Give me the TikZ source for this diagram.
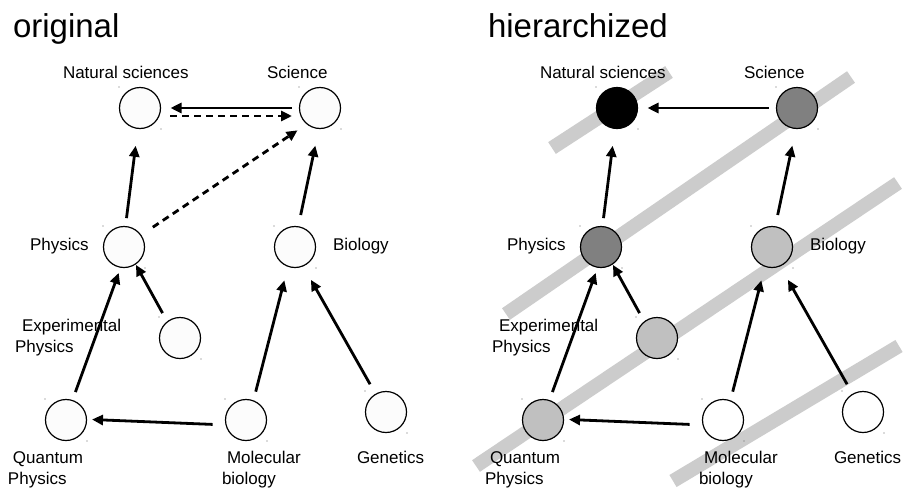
\documentclass[tikz,border=0pt]{standalone}
\usepackage{fontspec}
\setmainfont{Liberation Sans}
\usetikzlibrary{arrows.meta,calc}
\definecolor{bandgray}{HTML}{CCCCCC}
\definecolor{midgray}{HTML}{808080}
\definecolor{ltgray}{HTML}{C0C0C0}
\definecolor{offwhite}{HTML}{FCFCFC}
\definecolor{dotc}{HTML}{666666}
\begin{document}
\begin{tikzpicture}[x=1pt,y=-1pt,
  nd/.style={circle,draw=black,line width=1.2pt,minimum size=41pt,inner sep=0pt,outer sep=0pt,fill=#1},
  nd/.default=offwhite,
  lbl/.style={font=\fontsize{17}{21}\selectfont,inner sep=0pt,outer sep=0pt,anchor=base west,align=left},
  ttl/.style={font=\fontsize{33}{38}\selectfont,inner sep=0pt,outer sep=0pt,anchor=base west},
  arr/.style={line width=2.8pt,-{Triangle[length=11pt,width=10pt]}},
  dsh/.style={arr,dash pattern=on 7pt off 5pt},
  band/.style={line width=14pt,draw=bandgray},
]
\fill[white] (0,0) rectangle (904,490);
\useasboundingbox (0,0) rectangle (904,490);

% titles
\node[ttl] (t1) at (13,37) {original};
\node[ttl] (t2) at (488,37) {hierarchized};

% bands (right panel)
\draw[band] (552,148) -- (669,72);
\draw[band] (506,314) -- (851,77);
\draw[band] (476,466) -- (898,183);
\draw[band] (673,481) -- (899,346);

% left panel nodes
\node[nd] (lns) at (140,108) {};
\node[nd] (lsci) at (320,108) {};
\node[nd] (lphys) at (124,247) {};
\node[nd] (lbio) at (295,247) {};
\node[nd] (lep) at (180,338) {};
\node[nd] (lqp) at (66,420) {};
\node[nd] (lmb) at (246,420) {};
\node[nd] (lgen) at (386,412) {};

% right panel nodes
\node[nd=black] (rns) at (617,108) {};
\node[nd=midgray] (rsci) at (797,108) {};
\node[nd=midgray] (rphys) at (601,247) {};
\node[nd=ltgray] (rbio) at (772,247) {};
\node[nd=ltgray] (rep) at (657,338) {};
\node[nd=ltgray] (rqp) at (543,420) {};
\node[nd=white] (rmb) at (723,420) {};
\node[nd=white] (rgen) at (863,412) {};

% corner dots
\foreach \n in {lns,lsci,lphys,lbio,lep,lqp,lmb,lgen,rns,rsci,rphys,rbio,rep,rqp,rmb,rgen}{
  \fill[dotc] ([shift={(-21pt,21pt)}]\n.center) circle (0.6pt);
  \fill[dotc] ([shift={(21pt,-21pt)}]\n.center) circle (0.6pt);
}

% labels (multi-line nodes: base = last line)
\foreach \p/\dx in {l/0,r/477}{
  \node[lbl] (\p lblns) at (63+\dx,78) {Natural sciences};
  \node[lbl] (\p lblsci) at (267+\dx,78) {Science};
  \node[lbl] (\p lblphys) at (30+\dx,250) {Physics};
  \node[lbl] (\p lblbio) at (333+\dx,250) {Biology};
  \node[lbl] (\p lblep) at (15+\dx,352) {\hspace*{7pt}Experimental\\Physics};
  \node[lbl] (\p lblqp) at (8+\dx,484) {\hspace*{5pt}Quantum\\Physics};
  \node[lbl] (\p lblmb) at (222+\dx,484) {\hspace*{5pt}Molecular\\biology};
  \node[lbl] (\p lblgen) at (357+\dx,463) {Genetics};
}

% edges common to both panels
\foreach \p in {l,r}{
  \draw[arr, shorten <=8pt, shorten >=10pt] (\p sci.west) -- (\p ns.east);
  \draw[arr, shorten <=8.5pt, shorten >=17.5pt] (\p phys.86) -- (\p ns.-96);
  \draw[arr, shorten <=12pt, shorten >=17.5pt] (\p bio.81) -- (\p sci.-93);
  \draw[arr, shorten <=9pt, shorten >=6pt] (\p qp.72) -- (\p phys.-99);
  \draw[arr, shorten <=10pt, shorten >=1pt] (\p ep.128) -- (\p phys.-56);
  \draw[arr, shorten <=9.5pt, shorten >=14.5pt] (\p mb.69) -- (\p bio.-110);
  \draw[arr, shorten <=11.5pt, shorten >=16pt] (\p gen.120) -- (\p bio.-67.6);
  \draw[arr, shorten <=13.5pt, shorten >=5.5pt] (\p mb.194) -- (\p qp.2);
}

% dashed edges (left panel only)
\draw[dsh, shorten <=9.5pt, shorten >=7.5pt] ([yshift=-8pt]lns.east) -- ([yshift=-8pt]lsci.west);
\draw[dsh, shorten <=14.5pt, shorten >=11.5pt] (lphys.35) -- (lsci.-129);
\end{tikzpicture}
\end{document}
